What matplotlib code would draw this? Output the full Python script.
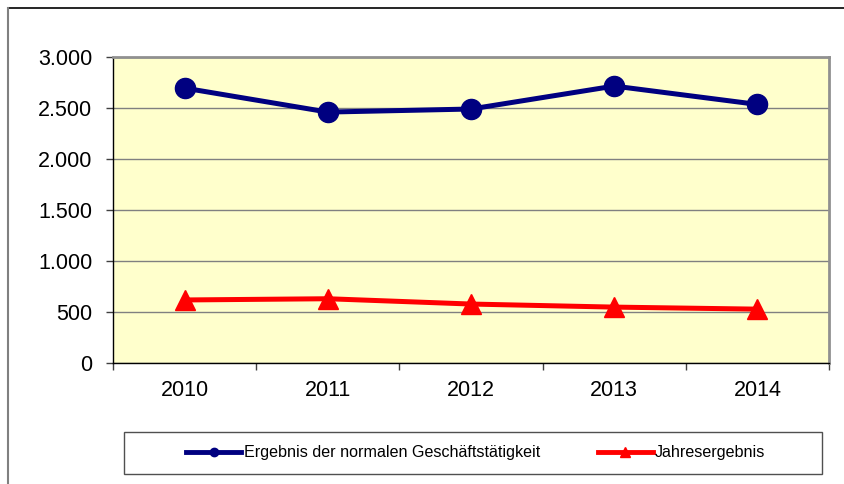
import matplotlib
matplotlib.use("Agg")
import matplotlib.pyplot as plt
from matplotlib.lines import Line2D
from matplotlib.patches import Rectangle
from matplotlib.ticker import FixedLocator, FuncFormatter

plt.rcParams['font.family'] = ['Liberation Sans', 'DejaVu Sans']

years = ["2010", "2011", "2012", "2013", "2014"]
ergebnis_normal = [2695, 2460, 2490, 2715, 2535]
jahresergebnis = [618, 630, 578, 548, 528]
series_names = ["Ergebnis der normalen Geschäftstätigkeit", "Jahresergebnis"]
y_ticks = [0, 500, 1000, 1500, 2000, 2500, 3000]

W, H = 845, 484
fig = plt.figure(figsize=(W / 100, H / 100), dpi=100)
fig.patch.set_facecolor("white")

ax = fig.add_axes([113 / W, 1 - 363 / H, 716 / W, 306 / H])
ax.set_facecolor("#FFFFCC")

x = list(range(len(years)))
ax.plot(x, ergebnis_normal, color="#000080", lw=3.6, marker="o",
        markersize=14.5, zorder=3, solid_capstyle="round")
ax.plot(x, jahresergebnis, color="#FF0000", lw=3.6, marker="^",
        markersize=15, zorder=3)

ax.set_xlim(-0.5, len(years) - 0.5)
ax.set_ylim(0, 3000)

ax.yaxis.set_major_locator(FixedLocator(y_ticks))
ax.yaxis.set_major_formatter(FuncFormatter(lambda v, p: f"{int(v):,}".replace(",", ".")))
ax.grid(axis="y", color="#808080", lw=1)
ax.set_axisbelow(True)

ax.xaxis.set_major_locator(FixedLocator([i - 0.5 for i in range(len(years) + 1)]))
ax.xaxis.set_major_formatter(FuncFormatter(lambda v, p: ""))
ax.xaxis.set_minor_locator(FixedLocator(x))
ax.set_xticklabels(years, minor=True)
ax.tick_params(axis="x", which="major", direction="out", length=5, width=1, color="#404040")
ax.tick_params(axis="x", which="minor", length=0, pad=12, labelsize=15.5)
ax.tick_params(axis="y", direction="out", length=5, width=1, color="#404040", pad=10, labelsize=15.5)

for s in ("left", "bottom"):
    ax.spines[s].set_color("black")
    ax.spines[s].set_linewidth(1)
for s in ("top", "right"):
    ax.spines[s].set_color("#909090")
    ax.spines[s].set_linewidth(2)

# chart frame (top and left edges visible)
fig.add_artist(Line2D([8 / W, 1], [1 - 8 / H, 1 - 8 / H], color="black", lw=1.2,
                      transform=fig.transFigure))
fig.add_artist(Line2D([8 / W, 8 / W], [0, 1 - 8 / H], color="#808080", lw=1.5,
                      transform=fig.transFigure))

# legend box
fig.add_artist(Rectangle((124 / W, 1 - 474 / H), 698 / W, 42 / H, transform=fig.transFigure,
                         facecolor="white", edgecolor="#505050", lw=1))
leg_handles = [
    Line2D([], [], color="#000080", lw=3.5, marker="o", markersize=6),
    Line2D([], [], color="#FF0000", lw=3.5, marker="^", markersize=7),
]
fig.legend(leg_handles, series_names, loc="center", bbox_to_anchor=(476 / W, 1 - 453 / H),
           ncol=2, frameon=False, fontsize=11.6, handlelength=3.4, handletextpad=0.15,
           columnspacing=3.6)

fig.savefig("out.png", dpi=100)
